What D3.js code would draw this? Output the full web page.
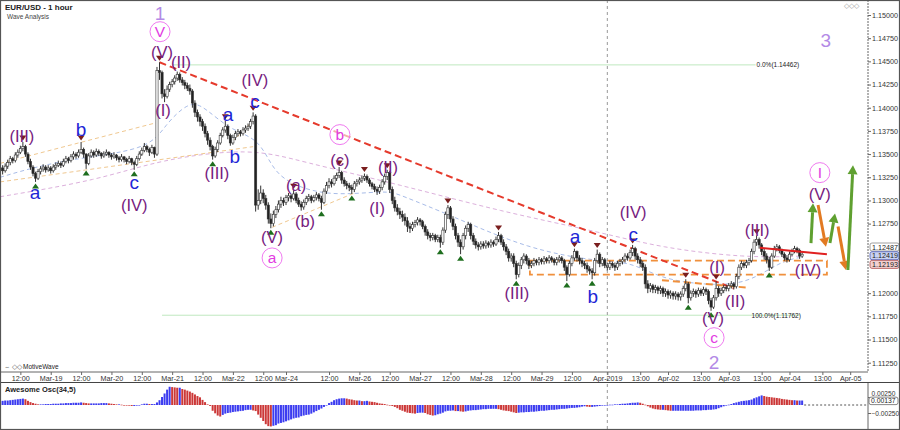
<!DOCTYPE html>
<html><head><meta charset="utf-8">
<script src="https://cdn.jsdelivr.net/npm/d3@7"></script>
<style>body{margin:0;background:#fff}svg{display:block;font-family:"Liberation Sans",Arial,sans-serif}</style>
</head><body><svg id="c" width="900" height="430"></svg>
<script>
// ---------------- DATA ----------------
const startIdx = 4;          // bar index of first bar (hours from Mar-18 00:00, trading time)
const firstOpen = 1.1333;
const closes = [
1.1335,1.1332,1.1337,1.1341,1.1345,1.1343,1.1349,1.1352,1.1356,1.1358,
1.1350,1.1342,1.1336,1.1329,1.1324,1.1331,1.1334,1.1336,1.1333,1.1335,
1.1332,1.1336,1.1338,1.1340,1.1338,1.1342,1.1345,1.1343,1.1347,1.1350,
1.1348,1.1352,1.1355,1.1350,1.1340,1.1348,1.1352,1.1349,1.1353,1.1351,
1.1348,1.1350,1.1352,1.1349,1.1347,1.1349,1.1346,1.1344,1.1347,1.1344,
1.1342,1.1345,1.1341,1.1339,1.1345,1.1350,1.1354,1.1358,1.1355,1.1352,
1.1357,1.1350,1.1440,1.1438,1.1415,1.1412,1.1420,1.1425,1.1428,1.1432,
1.1436,1.1430,1.1427,1.1424,1.1421,1.1418,1.1405,1.1395,1.1390,1.1385,
1.1380,1.1372,1.1365,1.1358,1.1348,1.1355,1.1362,1.1370,1.1376,1.1380,
1.1370,1.1362,1.1368,1.1372,1.1374,1.1372,1.1376,1.1378,1.1380,1.1385,
1.1391,1.1295,1.1300,1.1308,1.1302,1.1295,1.1280,1.1275,1.1285,1.1290,
1.1296,1.1300,1.1298,1.1303,1.1305,1.1302,1.1307,1.1300,1.1296,1.1293,
1.1298,1.1302,1.1304,1.1300,1.1303,1.1306,1.1302,1.1298,1.1310,1.1316,
1.1320,1.1318,1.1324,1.1327,1.1330,1.1322,1.1318,1.1316,1.1314,1.1312,
1.1318,1.1320,1.1322,1.1324,1.1326,1.1322,1.1318,1.1315,1.1312,1.1310,
1.1314,1.1320,1.1326,1.1330,1.1312,1.1300,1.1292,1.1288,1.1285,1.1282,
1.1278,1.1272,1.1270,1.1274,1.1276,1.1279,1.1277,1.1272,1.1266,1.1262,
1.1260,1.1262,1.1258,1.1260,1.1255,1.1268,1.1285,1.1292,1.1280,1.1272,
1.1262,1.1255,1.1250,1.1262,1.1270,1.1274,1.1262,1.1256,1.1252,1.1250,
1.1253,1.1251,1.1254,1.1252,1.1255,1.1253,1.1258,1.1262,1.1255,1.1250,
1.1245,1.1238,1.1240,1.1232,1.1220,1.1230,1.1236,1.1240,1.1235,1.1230,
1.1232,1.1235,1.1233,1.1236,1.1234,1.1237,1.1235,1.1238,1.1236,1.1233,
1.1236,1.1238,1.1235,1.1228,1.1220,1.1232,1.1238,1.1245,1.1238,1.1235,
1.1232,1.1230,1.1226,1.1224,1.1222,1.1235,1.1242,1.1232,1.1236,1.1230,
1.1228,1.1232,1.1230,1.1228,1.1232,1.1234,1.1236,1.1240,1.1238,1.1244,
1.1248,1.1240,1.1236,1.1232,1.1228,1.1210,1.1205,1.1208,1.1204,1.1206,
1.1203,1.1205,1.1200,1.1202,1.1198,1.1200,1.1197,1.1199,1.1196,1.1199,
1.1205,1.1210,1.1195,1.1200,1.1202,1.1199,1.1203,1.1200,1.1204,1.1202,
1.1192,1.1185,1.1195,1.1205,1.1200,1.1203,1.1206,1.1205,1.1208,1.1210,
1.1207,1.1218,1.1228,1.1232,1.1230,1.1233,1.1235,1.1245,1.1255,1.1258,
1.1252,1.1245,1.1240,1.1236,1.1228,1.1240,1.1248,1.1250,1.1246,1.1242,
1.1238,1.1236,1.1242,1.1245,1.1248,1.1246,1.1240,1.1242];
const highs = [
1.1339,1.1338,1.1340,1.1344,1.1348,1.1347,1.1352,1.1355,1.1359,1.1363,
1.1360,1.1352,1.1345,1.1338,1.1331,1.1334,1.1337,1.1339,1.1338,1.1338,
1.1337,1.1339,1.1341,1.1343,1.1342,1.1345,1.1348,1.1347,1.1350,1.1353,
1.1352,1.1355,1.1363,1.1357,1.1351,1.1351,1.1355,1.1354,1.1356,1.1355,
1.1352,1.1353,1.1355,1.1353,1.1351,1.1352,1.1350,1.1348,1.1350,1.1348,
1.1346,1.1348,1.1346,1.1343,1.1348,1.1353,1.1357,1.1362,1.1360,1.1357,
1.1360,1.1358,1.1444,1.1449,1.1440,1.1420,1.1424,1.1428,1.1431,1.1435,
1.1439,1.1438,1.1433,1.1430,1.1427,1.1425,1.1420,1.1408,1.1398,1.1393,
1.1388,1.1383,1.1375,1.1368,1.1360,1.1358,1.1365,1.1373,1.1379,1.1386,
1.1382,1.1372,1.1371,1.1375,1.1377,1.1376,1.1379,1.1381,1.1383,1.1388,
1.1395,1.1393,1.1312,1.1316,1.1312,1.1306,1.1298,1.1286,1.1289,1.1294,
1.1300,1.1304,1.1303,1.1306,1.1308,1.1307,1.1311,1.1309,1.1303,1.1299,
1.1301,1.1305,1.1307,1.1306,1.1306,1.1309,1.1308,1.1305,1.1313,1.1320,
1.1324,1.1323,1.1327,1.1330,1.1336,1.1332,1.1325,1.1321,1.1319,1.1317,
1.1321,1.1323,1.1325,1.1327,1.1329,1.1328,1.1324,1.1320,1.1318,1.1315,
1.1317,1.1323,1.1329,1.1333,1.1332,1.1315,1.1304,1.1296,1.1292,1.1289,
1.1286,1.1282,1.1276,1.1277,1.1279,1.1282,1.1281,1.1279,1.1274,1.1269,
1.1265,1.1265,1.1264,1.1263,1.1263,1.1271,1.1288,1.1295,1.1294,1.1283,
1.1275,1.1265,1.1258,1.1265,1.1273,1.1277,1.1276,1.1265,1.1259,1.1255,
1.1256,1.1256,1.1257,1.1256,1.1258,1.1257,1.1261,1.1266,1.1264,1.1258,
1.1253,1.1248,1.1243,1.1243,1.1235,1.1233,1.1239,1.1243,1.1242,1.1238,
1.1235,1.1238,1.1237,1.1239,1.1238,1.1240,1.1239,1.1241,1.1240,1.1238,
1.1239,1.1241,1.1240,1.1237,1.1230,1.1235,1.1241,1.1248,1.1246,1.1241,
1.1238,1.1235,1.1233,1.1229,1.1227,1.1238,1.1247,1.1244,1.1239,1.1238,
1.1233,1.1235,1.1234,1.1233,1.1235,1.1237,1.1239,1.1243,1.1243,1.1247,
1.1252,1.1250,1.1243,1.1239,1.1235,1.1231,1.1214,1.1211,1.1210,1.1209,
1.1208,1.1208,1.1207,1.1205,1.1204,1.1203,1.1202,1.1202,1.1201,1.1202,
1.1208,1.1215,1.1212,1.1203,1.1205,1.1204,1.1206,1.1205,1.1207,1.1206,
1.1204,1.1195,1.1198,1.1213,1.1208,1.1206,1.1209,1.1209,1.1211,1.1213,
1.1212,1.1221,1.1231,1.1235,1.1234,1.1236,1.1238,1.1248,1.1258,1.1262,
1.1260,1.1254,1.1248,1.1243,1.1239,1.1243,1.1251,1.1253,1.1252,1.1248,
1.1244,1.1241,1.1245,1.1248,1.1251,1.1250,1.1248,1.1245];
const lows = [
1.1330,1.1328,1.1330,1.1334,1.1338,1.1340,1.1341,1.1346,1.1350,1.1353,
1.1347,1.1339,1.1333,1.1326,1.1320,1.1322,1.1328,1.1331,1.1330,1.1331,
1.1329,1.1330,1.1333,1.1336,1.1335,1.1336,1.1340,1.1340,1.1341,1.1344,
1.1345,1.1346,1.1350,1.1346,1.1334,1.1338,1.1346,1.1346,1.1347,1.1348,
1.1345,1.1346,1.1348,1.1346,1.1344,1.1345,1.1343,1.1341,1.1342,1.1341,
1.1339,1.1340,1.1338,1.1333,1.1337,1.1343,1.1348,1.1352,1.1352,1.1348,
1.1350,1.1346,1.1348,1.1430,1.1410,1.1406,1.1410,1.1417,1.1422,1.1425,
1.1429,1.1427,1.1424,1.1420,1.1418,1.1414,1.1400,1.1390,1.1385,1.1380,
1.1375,1.1368,1.1360,1.1354,1.1344,1.1346,1.1352,1.1360,1.1368,1.1373,
1.1366,1.1359,1.1360,1.1365,1.1369,1.1369,1.1370,1.1373,1.1375,1.1377,
1.1382,1.1288,1.1290,1.1296,1.1297,1.1290,1.1275,1.1270,1.1272,1.1281,
1.1287,1.1292,1.1294,1.1295,1.1299,1.1298,1.1300,1.1297,1.1293,1.1289,
1.1290,1.1295,1.1299,1.1297,1.1298,1.1300,1.1299,1.1290,1.1296,1.1307,
1.1313,1.1314,1.1316,1.1321,1.1324,1.1318,1.1315,1.1312,1.1310,1.1307,
1.1309,1.1315,1.1317,1.1319,1.1321,1.1319,1.1315,1.1312,1.1309,1.1306,
1.1307,1.1311,1.1317,1.1322,1.1308,1.1296,1.1288,1.1284,1.1280,1.1277,
1.1273,1.1266,1.1265,1.1267,1.1271,1.1273,1.1273,1.1269,1.1262,1.1258,
1.1256,1.1257,1.1255,1.1255,1.1249,1.1252,1.1265,1.1280,1.1276,1.1268,
1.1258,1.1250,1.1242,1.1247,1.1258,1.1266,1.1258,1.1252,1.1248,1.1246,
1.1247,1.1248,1.1248,1.1249,1.1249,1.1250,1.1251,1.1255,1.1252,1.1246,
1.1241,1.1234,1.1234,1.1228,1.1215,1.1217,1.1226,1.1232,1.1231,1.1226,
1.1227,1.1229,1.1230,1.1230,1.1231,1.1231,1.1232,1.1232,1.1233,1.1230,
1.1230,1.1233,1.1232,1.1224,1.1213,1.1218,1.1229,1.1235,1.1234,1.1231,
1.1228,1.1226,1.1222,1.1220,1.1215,1.1219,1.1232,1.1228,1.1229,1.1227,
1.1224,1.1225,1.1227,1.1224,1.1225,1.1229,1.1231,1.1233,1.1235,1.1236,
1.1240,1.1236,1.1232,1.1228,1.1224,1.1205,1.1200,1.1201,1.1200,1.1200,
1.1199,1.1199,1.1196,1.1196,1.1194,1.1194,1.1193,1.1193,1.1192,1.1192,
1.1196,1.1202,1.1189,1.1192,1.1196,1.1195,1.1196,1.1197,1.1197,1.1198,
1.1188,1.1181,1.1183,1.1192,1.1196,1.1197,1.1200,1.1202,1.1202,1.1205,
1.1204,1.1205,1.1215,1.1225,1.1227,1.1227,1.1230,1.1233,1.1242,1.1251,
1.1248,1.1241,1.1236,1.1232,1.1224,1.1226,1.1238,1.1245,1.1243,1.1239,
1.1235,1.1233,1.1234,1.1240,1.1243,1.1243,1.1237,1.1238];
// Awesome Oscillator (34,5) values, one per bar
const aoValues = [
0.0012,0.0013,0.0014,0.0014,0.0015,0.0016,0.0017,0.0018,0.0019,0.0020,
0.0018,0.0013,0.0009,0.0006,0.0004,0.0002,0.0002,0.0002,0.0003,0.0003,
0.0003,0.0004,0.0004,0.0004,0.0005,0.0005,0.0006,0.0006,0.0006,0.0007,
0.0007,0.0007,0.0008,0.0007,0.0006,0.0005,0.0005,0.0005,0.0005,0.0005,
0.0006,0.0006,0.0006,0.0005,0.0004,0.0003,0.0002,0.0002,0.0001,0.0000,
-0.0001,-0.0002,-0.0003,-0.0003,-0.0002,0.0000,0.0002,0.0004,0.0004,0.0003,
0.0003,0.0003,0.0008,0.0015,0.0025,0.0036,0.0048,0.0057,0.0056,0.0055,
0.0054,0.0054,0.0050,0.0048,0.0045,0.0042,0.0038,0.0033,0.0028,0.0024,
0.0016,0.0009,0.0002,-0.0003,-0.0018,-0.0026,-0.0033,-0.0036,-0.0031,-0.0027,
-0.0025,-0.0024,-0.0022,-0.0021,-0.0020,-0.0019,-0.0018,-0.0016,-0.0015,-0.0015,
-0.0017,-0.0019,-0.0030,-0.0040,-0.0050,-0.0060,-0.0066,-0.0067,-0.0065,-0.0063,
-0.0058,-0.0056,-0.0054,-0.0051,-0.0048,-0.0045,-0.0042,-0.0040,-0.0039,-0.0035,
-0.0033,-0.0031,-0.0030,-0.0027,-0.0023,-0.0019,-0.0015,-0.0011,-0.0006,0.0000,
0.0006,0.0010,0.0015,0.0018,0.0020,0.0021,0.0021,0.0020,0.0018,0.0017,
0.0015,0.0014,0.0014,0.0012,0.0012,0.0013,0.0011,0.0010,0.0009,0.0007,
0.0005,0.0004,0.0003,0.0001,0.0000,-0.0003,-0.0006,-0.0010,-0.0015,-0.0018,
-0.0021,-0.0024,-0.0025,-0.0026,-0.0027,-0.0025,-0.0024,-0.0024,-0.0025,-0.0029,
-0.0031,-0.0033,-0.0032,-0.0029,-0.0027,-0.0024,-0.0020,-0.0018,-0.0018,-0.0017,
-0.0019,-0.0019,-0.0020,-0.0021,-0.0020,-0.0018,-0.0017,-0.0016,-0.0016,-0.0015,
-0.0014,-0.0013,-0.0013,-0.0012,-0.0012,-0.0012,-0.0012,-0.0013,-0.0015,-0.0017,
-0.0018,-0.0019,-0.0021,-0.0023,-0.0025,-0.0024,-0.0023,-0.0023,-0.0022,-0.0022,
-0.0021,-0.0021,-0.0020,-0.0019,-0.0018,-0.0018,-0.0017,-0.0016,-0.0015,-0.0015,
-0.0014,-0.0013,-0.0012,-0.0012,-0.0011,-0.0010,-0.0009,-0.0009,-0.0008,-0.0007,
-0.0005,-0.0004,-0.0005,-0.0006,-0.0006,-0.0005,-0.0004,-0.0003,-0.0002,-0.0001,
0.0000,0.0001,0.0001,0.0002,0.0002,0.0003,0.0004,0.0004,0.0005,0.0006,
0.0007,0.0007,0.0008,0.0007,0.0004,0.0001,-0.0004,-0.0008,-0.0011,-0.0013,
-0.0014,-0.0015,-0.0015,-0.0016,-0.0017,-0.0018,-0.0018,-0.0018,-0.0018,-0.0018,
-0.0018,-0.0018,-0.0018,-0.0018,-0.0018,-0.0017,-0.0017,-0.0017,-0.0016,-0.0016,
-0.0015,-0.0015,-0.0014,-0.0013,-0.0010,-0.0007,-0.0004,-0.0002,0.0001,0.0003,
0.0006,0.0008,0.0010,0.0012,0.0013,0.0014,0.0015,0.0017,0.0021,0.0024,
0.0027,0.0030,0.0028,0.0026,0.0025,0.0024,0.0023,0.0022,0.0021,0.0019,
0.0018,0.0017,0.0016,0.0015,0.0015,0.0014,0.0014,0.0014];
const timeTickIdx = [12,24,36,48,60,72,84,96,108,117,134,146,158,170,182,194,206,218,230,244,257,268,281,292,305,316,329,340];
const timeTickLabels = ["12:00","Mar-19","12:00","Mar-20","12:00","Mar-21","12:00","Mar-22","12:00","Mar-24","12:00","Mar-26","12:00","Mar-27","12:00","Mar-28","12:00","Mar-29","12:00","Apr-2019","13:00","Apr-02","13:00","Apr-03","13:00","Apr-04","13:00","Apr-05"];
const priceTicks = [1.15,1.1475,1.145,1.1425,1.14,1.1375,1.135,1.1325,1.13,1.1275,1.12,1.1175,1.115,1.1125];
const aoTicks = [0.0025,-0.0025];
const highMarkers = [13,36,67,93,104,120,138,148,157,181,201,231,240,254,275,287,303];
const lowMarkers = [18,38,57,88,111,131,143,178,186,208,228,238,276,285,308];
// wave labels: text, bar index, price, style
const waveLabels = [
["1",67.2,1.1502,"n"],["V",67.2,1.1482,"c"],["(V)",68,1.1460,"p"],["(II)",75.5,1.1449,"p"],["(I)",68.4,1.1398,"p"],
["(III)",12.6,1.1370,"p"],["a",17.8,1.1308,"b"],["b",36,1.1376,"b"],["c",57,1.1319,"b"],["(IV)",57,1.1295,"p"],
["(III)",89.7,1.1330,"p"],["a",94.1,1.1392,"b"],["b",96.8,1.1347,"b"],["c",104.7,1.1406,"b"],["(IV)",104.7,1.1430,"p"],
["(a)",121,1.1317,"p"],["(b)",124.5,1.1278,"p"],["(V)",111.5,1.1261,"p"],["a",111.5,1.1238,"c"],
["b",138.3,1.1371,"c"],["(c)",138.3,1.1344,"p"],["(II)",157.3,1.1336,"p"],["(I)",153,1.1292,"p"],
["(III)",208.3,1.1200,"p"],["a",231.2,1.1261,"b"],["b",238.3,1.1196,"b"],["(IV)",254.2,1.1288,"p"],["c",254.2,1.1263,"b"],
["(I)",287.4,1.1228,"p"],["(II)",294.5,1.1192,"p"],["(V)",285.8,1.1173,"p"],["c",286.2,1.1152,"c"],["2",286.2,1.1126,"n"],
["(III)",303.2,1.1268,"p"],["(IV)",323.3,1.1225,"p"],["I",328,1.1330,"c"],["(V)",328,1.1307,"p"],["3",330.4,1.1473,"n"]];
// moving averages: [bar index, price]
const maFast = [[4,1.1325],[28,1.1344],[63,1.1354],[69,1.1381],[79,1.1408],[85,1.1400],[95,1.1376],[106,1.1367],[111,1.1338],[117,1.1319],[134,1.1304],[157,1.1311],[162,1.1306],[182,1.1284],[213,1.1247],[241,1.1234],[253,1.1234],[265,1.1216],[281,1.1209],[299,1.1209],[312,1.1234],[321,1.1239]];
const maSlow = [[4,1.1304],[43,1.1322],[67,1.1344],[103,1.1357],[123,1.1342],[162,1.1317],[202,1.1288],[241,1.1266],[265,1.1249],[299,1.1238],[321,1.1240]];
// trend / channel lines: [idx1, p1, idx2, p2]
const channelLines = [[4,1.1340,66,1.1384],[4,1.1320,104,1.1358],[95.6,1.1363,105.5,1.1390],[111.5,1.1271,144,1.1308]];
const trendDown = [67,1.1449,294,1.1205];
const trendOrange = [265.6,1.1214,299.2,1.1206];
const resistance = [304.3,1.1249,330.8,1.1242];
const rangeBox = [213.4,1.1235,330.8,1.1220];
const fibLevels = [["0.0%(1.14462)",1.14462,72,303],["100.0%(1.11762)",1.11762,68,301]];
const arrows = [[324.5,1.1254,325.3,1.1297,"g"],[327.3,1.1295,330.4,1.1250,"o"],[332,1.1254,334,1.1286,"g"],[335.2,1.1272,338.3,1.1225,"o"],[339.1,1.1225,341.1,1.1338,"g"]];
const priceTags = [["1.12487",1.12487,"#ffffff","#888"],["1.12419",1.12419,"#c8d2f2","#4a5ab8"],["1.12193",1.12193,"#f2d0d0","#b05050"]];
const aoLast = 0.00137;
const splitIdx = 244;

// ---------------- DRAW ----------------
const svg = d3.select("#c");
const PX = 868, PY = 372;
const x = d3.scaleLinear().domain([0,340]).range([-10,-10+340*2.53]);
const y = d3.scaleLinear().domain([1.1125,1.15]).range([362.7,15]);
const aoY = d3.scaleLinear().domain([-0.0025,0.0025]).range([413,397]);
const bars = closes.map((c,i)=>({i:startIdx+i,o:i?closes[i-1]:firstOpen,c,h:highs[i],l:lows[i]}));
const byIdx = new Map(bars.map(b=>[b.i,b]));

svg.append("rect").attr("width",900).attr("height",430).attr("fill","#fff");
svg.append("defs").html('<clipPath id="pc"><rect x="0" y="0" width="'+PX+'" height="'+PY+'"/></clipPath><clipPath id="ac"><rect x="0" y="383" width="'+PX+'" height="46"/></clipPath>');
const g = svg.append("g").attr("clip-path","url(#pc)");

// fib lines
fibLevels.forEach(f=>{
  g.append("line").attr("x1",x(f[2])).attr("x2",x(320)).attr("y1",y(f[1])).attr("y2",y(f[1])).attr("stroke","#bfe8bf").attr("stroke-width",1);
  const t = g.append("text").attr("x",x(f[3])).attr("y",y(f[1])+2.5).attr("font-size",6.5).attr("fill","#222").text(f[0]);
  const bb = t.node().getBBox();
  g.insert("rect","text").attr("x",bb.x-1).attr("y",bb.y).attr("width",bb.width+2).attr("height",bb.height).attr("fill","#fff");
});
// MAs
const lineGen = d3.line().x(d=>x(d[0])).y(d=>y(d[1])).curve(d3.curveBasis);
g.append("path").attr("d",lineGen(maSlow)).attr("fill","none").attr("stroke","#dcb0dc").attr("stroke-width",1).attr("stroke-dasharray","4,3");
g.append("path").attr("d",lineGen(maFast)).attr("fill","none").attr("stroke","#a8bce8").attr("stroke-width",1).attr("stroke-dasharray","4,3");
channelLines.forEach(l=>g.append("line").attr("x1",x(l[0])).attr("y1",y(l[1])).attr("x2",x(l[2])).attr("y2",y(l[3])).attr("stroke","#f0c890").attr("stroke-width",1).attr("stroke-dasharray","4,3"));
// range box
g.append("rect").attr("x",x(rangeBox[0])).attr("y",y(rangeBox[1])).attr("width",x(rangeBox[2])-x(rangeBox[0])).attr("height",y(rangeBox[3])-y(rangeBox[1]))
 .attr("fill","none").attr("stroke","#f0903c").attr("stroke-width",1.8).attr("stroke-dasharray","7,4");
// red dashed trend
g.append("line").attr("x1",x(trendDown[0])).attr("y1",y(trendDown[1])).attr("x2",x(trendDown[2])).attr("y2",y(trendDown[3])).attr("stroke","#e53a2c").attr("stroke-width",2).attr("stroke-dasharray","7,4");
g.append("line").attr("x1",x(trendOrange[0])).attr("y1",y(trendOrange[1])).attr("x2",x(trendOrange[2])).attr("y2",y(trendOrange[3])).attr("stroke","#f0903c").attr("stroke-width",2).attr("stroke-dasharray","7,4");

// candles
const cg = g.append("g");
cg.selectAll("line").data(bars).join("line").attr("x1",d=>x(d.i)).attr("x2",d=>x(d.i)).attr("y1",d=>y(d.h)).attr("y2",d=>y(d.l)).attr("stroke","#333").attr("stroke-width",1);
cg.selectAll("rect").data(bars).join("rect").attr("x",d=>x(d.i)-1.1).attr("width",2.2)
  .attr("y",d=>y(Math.max(d.o,d.c))).attr("height",d=>Math.max(0.8,Math.abs(y(d.o)-y(d.c))))
  .attr("fill",d=>d.c>=d.o?"#fff":"#222").attr("stroke","#333").attr("stroke-width",0.6);
// markers
highMarkers.forEach(i=>{const b=byIdx.get(i),cx=x(i),cy=y(b.h)-1.5;
  g.append("path").attr("d",`M${cx-3.5},${cy-5}L${cx+3.5},${cy-5}L${cx},${cy}Z`).attr("fill","#7a1e1e");});
lowMarkers.forEach(i=>{const b=byIdx.get(i),cx=x(i),cy=y(b.l)+1.5;
  g.append("path").attr("d",`M${cx-3.5},${cy+5}L${cx+3.5},${cy+5}L${cx},${cy}Z`).attr("fill","#1e6e1e");});
// resistance
g.append("line").attr("x1",x(resistance[0])).attr("y1",y(resistance[1])).attr("x2",x(resistance[2])).attr("y2",y(resistance[3])).attr("stroke","#e02020").attr("stroke-width",2);

// labels
const lg = g.append("g").attr("text-anchor","middle");
waveLabels.forEach(([t,i,p,s])=>{
  const cx=x(i), cy=y(p);
  if(s==="c"){
    lg.append("circle").attr("cx",cx).attr("cy",cy).attr("r",10).attr("fill","#fff").attr("fill-opacity",0.6).attr("stroke","#f07af0").attr("stroke-width",1);
    lg.append("text").attr("x",cx).attr("y",cy+5.5).attr("font-size",15.5).attr("fill","#e23ce2").text(t);
  } else if(s==="n"){
    lg.append("text").attr("x",cx).attr("y",cy+7).attr("font-size",19).attr("fill","#b38ae6").text(t);
  } else if(s==="b"){
    lg.append("text").attr("x",cx).attr("y",cy+6).attr("font-size",19).attr("fill","#1e26d6").text(t);
  } else {
    lg.append("text").attr("x",cx).attr("y",cy+6).attr("font-size",16.5).attr("fill","#76207e").text(t);
  }
});
// arrows
arrows.forEach(([i1,p1,i2,p2,c])=>{
  const col = c==="g"?"#5fa030":"#e27a22";
  const x1=x(i1),y1=y(p1),x2=x(i2),y2=y(p2);
  const a=Math.atan2(y2-y1,x2-x1), L=9, Wd=5;
  const bx=x2-L*Math.cos(a), by=y2-L*Math.sin(a);
  g.append("line").attr("x1",x1).attr("y1",y1).attr("x2",bx).attr("y2",by).attr("stroke",col).attr("stroke-width",3);
  g.append("path").attr("d",`M${x2},${y2}L${bx+Wd*Math.sin(a)},${by-Wd*Math.cos(a)}L${bx-Wd*Math.sin(a)},${by+Wd*Math.cos(a)}Z`).attr("fill",col);
});

// split line
svg.append("line").attr("x1",x(splitIdx)).attr("x2",x(splitIdx)).attr("y1",0).attr("y2",430).attr("stroke","#999").attr("stroke-width",1).attr("stroke-dasharray","3,3");

// title
svg.append("text").attr("x",5).attr("y",10).attr("font-size",8).attr("font-weight","bold").attr("fill","#222").text("EUR/USD - 1 hour");
svg.append("text").attr("x",7).attr("y",19).attr("font-size",6.5).attr("fill","#444").text("Wave Analysis");
svg.append("text").attr("x",4).attr("y",369).attr("font-size",6.5).attr("fill","#666").text("⇔ ◇◇");
svg.append("text").attr("x",23).attr("y",369).attr("font-size",6.5).attr("fill","#222").text("MotiveWave");
svg.append("text").attr("x",844).attr("y",8).attr("font-size",7).attr("fill","#999").text("◇◇◇");

// right price axis
const ya = svg.append("g").attr("transform",`translate(${PX},0)`)
  .call(d3.axisRight(y).tickValues(priceTicks).tickFormat(d3.format(".5f")).tickSize(3).tickPadding(1));
ya.select(".domain").attr("stroke","#666").attr("stroke-dasharray","2,1");
ya.selectAll("text").attr("font-size",7.2).attr("fill","#333").attr("font-family","Liberation Sans, Arial");
ya.selectAll("line").attr("stroke","#666");
ya.select(".domain").attr("d",`M0,0V${PY}`);
// price tags
priceTags.forEach((t,k)=>{
  const cy = 247 + k*8.7;
  svg.append("rect").attr("x",PX+2).attr("y",cy-4).attr("width",29).attr("height",8).attr("rx",2).attr("fill",t[2]).attr("stroke",t[3]).attr("stroke-width",0.8);
  svg.append("text").attr("x",PX+4).attr("y",cy+2.6).attr("font-size",7.2).attr("fill","#222").text(t[0]);
});

// x axis
const xa = svg.append("g").attr("transform",`translate(0,${PY})`)
  .call(d3.axisBottom(x).tickValues(timeTickIdx).tickFormat((d,i)=>timeTickLabels[i]).tickSize(3).tickPadding(1));
xa.select(".domain").attr("d",`M0,0H${PX}`).attr("stroke","#666");
xa.selectAll("line").attr("stroke","#666");
xa.selectAll("text").attr("font-size",7.2).attr("fill","#333").attr("font-family","Liberation Sans, Arial");
svg.append("line").attr("x1",0).attr("x2",900).attr("y1",382.5).attr("y2",382.5).attr("stroke","#444").attr("stroke-width",1);

// AO panel
const ag = svg.append("g").attr("clip-path","url(#ac)");
const aoData = aoValues.map((v,k)=>({i:startIdx+k,v,up:k===0?true:v>=aoValues[k-1]}));
ag.selectAll("rect").data(aoData).join("rect")
  .attr("x",d=>x(d.i)-1).attr("width",2)
  .attr("y",d=>Math.min(aoY(0),aoY(d.v))).attr("height",d=>Math.max(0.6,Math.abs(aoY(d.v)-aoY(0))))
  .attr("fill",d=>d.up?"#3c3cf0":"#cc3838");
svg.append("line").attr("x1",x(startIdx+aoValues.length-1)+2).attr("x2",PX).attr("y1",aoY(0)).attr("y2",aoY(0)).attr("stroke","#555").attr("stroke-dasharray","2,2");
svg.append("text").attr("x",5).attr("y",392).attr("font-size",7.5).attr("font-weight","bold").attr("fill","#222").text("Awesome Osc(34,5)");
const aa = svg.append("g").attr("transform",`translate(${PX},0)`)
  .call(d3.axisRight(aoY).tickValues(aoTicks).tickFormat(d3.format(".5f")).tickSize(3).tickPadding(0.5));
aa.select(".domain").attr("d","M0,383V430").attr("stroke","#666");
aa.selectAll("line").attr("stroke","#666");
aa.selectAll("text").attr("font-size",6.6).attr("fill","#333").attr("font-family","Liberation Sans, Arial");
aa.selectAll(".tick").filter(d=>d>0).select("text").attr("dy","-0.25em");
svg.append("rect").attr("x",PX+1).attr("y",aoY(aoLast)-3.5).attr("width",29).attr("height",7.5).attr("rx",2).attr("fill","#fff").attr("stroke","#666").attr("stroke-width",0.8);
svg.append("text").attr("x",PX+3).attr("y",aoY(aoLast)+2.6).attr("font-size",6.8).attr("fill","#222").text(d3.format(".5f")(aoLast));

// frame
svg.append("rect").attr("x",0.5).attr("y",0.5).attr("width",899).attr("height",429).attr("fill","none").attr("stroke","#555").attr("stroke-width",1.2);
</script></body></html>
